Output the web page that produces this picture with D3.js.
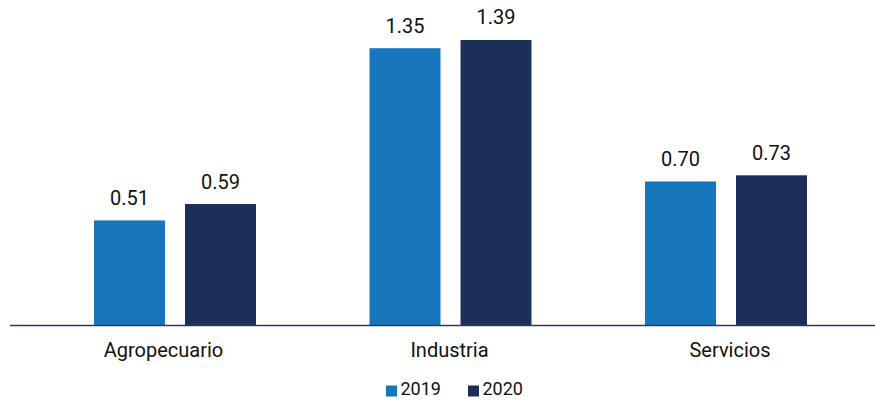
<!DOCTYPE html>
<html>
<head>
<meta charset="utf-8">
<script src="https://cdn.jsdelivr.net/npm/d3@7"></script>
<style>
  html, body { margin: 0; padding: 0; background: #fff; }
  svg { display: block; font-family: Roboto, "Noto Sans", sans-serif; }
</style>
</head>
<body>
<svg id="chart" width="875" height="400"></svg>
<script>
const categories = ["Agropecuario", "Industria", "Servicios"];
const seriesNames = ["2019", "2020"];
const values2019 = [0.51, 1.35, 0.70];
const values2020 = [0.59, 1.39, 0.73];
const colors = ["#1776BB", "#1C2F5A"];

const seriesValues = [values2019, values2020];
const data = categories.map((c, i) => ({
  category: c,
  values: seriesNames.map((s, j) => ({ series: s, value: seriesValues[j][i], color: colors[j] }))
}));

const svg = d3.select("#chart");
const baseY = 325;

const x0 = d3.scaleBand()
  .domain(categories)
  .range([37.25, 863.75])
  .paddingInner(0.412)
  .paddingOuter(0.206);

const x1 = d3.scaleBand()
  .domain(seriesNames)
  .range([0, x0.bandwidth()])
  .paddingInner(0.22)
  .paddingOuter(0);

const y = d3.scaleLinear()
  .domain([0, 1.585])
  .range([baseY, 0]);

const groups = svg.selectAll("g.grp")
  .data(data)
  .join("g")
  .attr("class", "grp")
  .attr("transform", d => `translate(${x0(d.category)},0)`);

groups.selectAll("rect")
  .data(d => d.values)
  .join("rect")
  .attr("x", d => x1(d.series))
  .attr("y", d => y(d.value))
  .attr("width", x1.bandwidth())
  .attr("height", d => baseY - y(d.value))
  .attr("fill", d => d.color);

groups.selectAll("text.val")
  .data(d => d.values)
  .join("text")
  .attr("class", "val")
  .attr("x", d => x1(d.series) + x1.bandwidth() / 2)
  .attr("y", d => y(d.value) - 15.5)
  .attr("text-anchor", "middle")
  .attr("font-size", "20px")
  .attr("fill", "#111")
  .text(d => d.value.toFixed(2));

// baseline axis
const xAxis = d3.axisBottom(x0).tickSize(0).tickPadding(0);
const axisG = svg.append("g")
  .attr("transform", `translate(0,${baseY})`)
  .call(xAxis);
axisG.select(".domain").remove();
axisG.append("line")
  .attr("x1", 10).attr("x2", 875)
  .attr("y1", 0.5).attr("y2", 0.5)
  .attr("stroke", "#2a3a62")
  .attr("stroke-width", 1.5);
axisG.selectAll(".tick text")
  .attr("font-family", "Roboto, 'Noto Sans', sans-serif")
  .attr("font-size", "20px")
  .attr("fill", "#111")
  .attr("dy", null)
  .attr("y", 32)
  .attr("dx", (d, i) => [-11.5, -1, 4][i]);

// legend
const legendItems = [
  { name: seriesNames[0], color: colors[0], x: 386 },
  { name: seriesNames[1], color: colors[1], x: 468 }
];
const leg = svg.append("g");
leg.selectAll("rect")
  .data(legendItems)
  .join("rect")
  .attr("x", d => d.x)
  .attr("y", 385.5)
  .attr("width", 11)
  .attr("height", 11)
  .attr("fill", d => d.color);
leg.selectAll("text")
  .data(legendItems)
  .join("text")
  .attr("x", d => d.x + 14.5)
  .attr("y", 395)
  .attr("font-size", "18px")
  .attr("fill", "#111")
  .text(d => d.name);
</script>
</body>
</html>
